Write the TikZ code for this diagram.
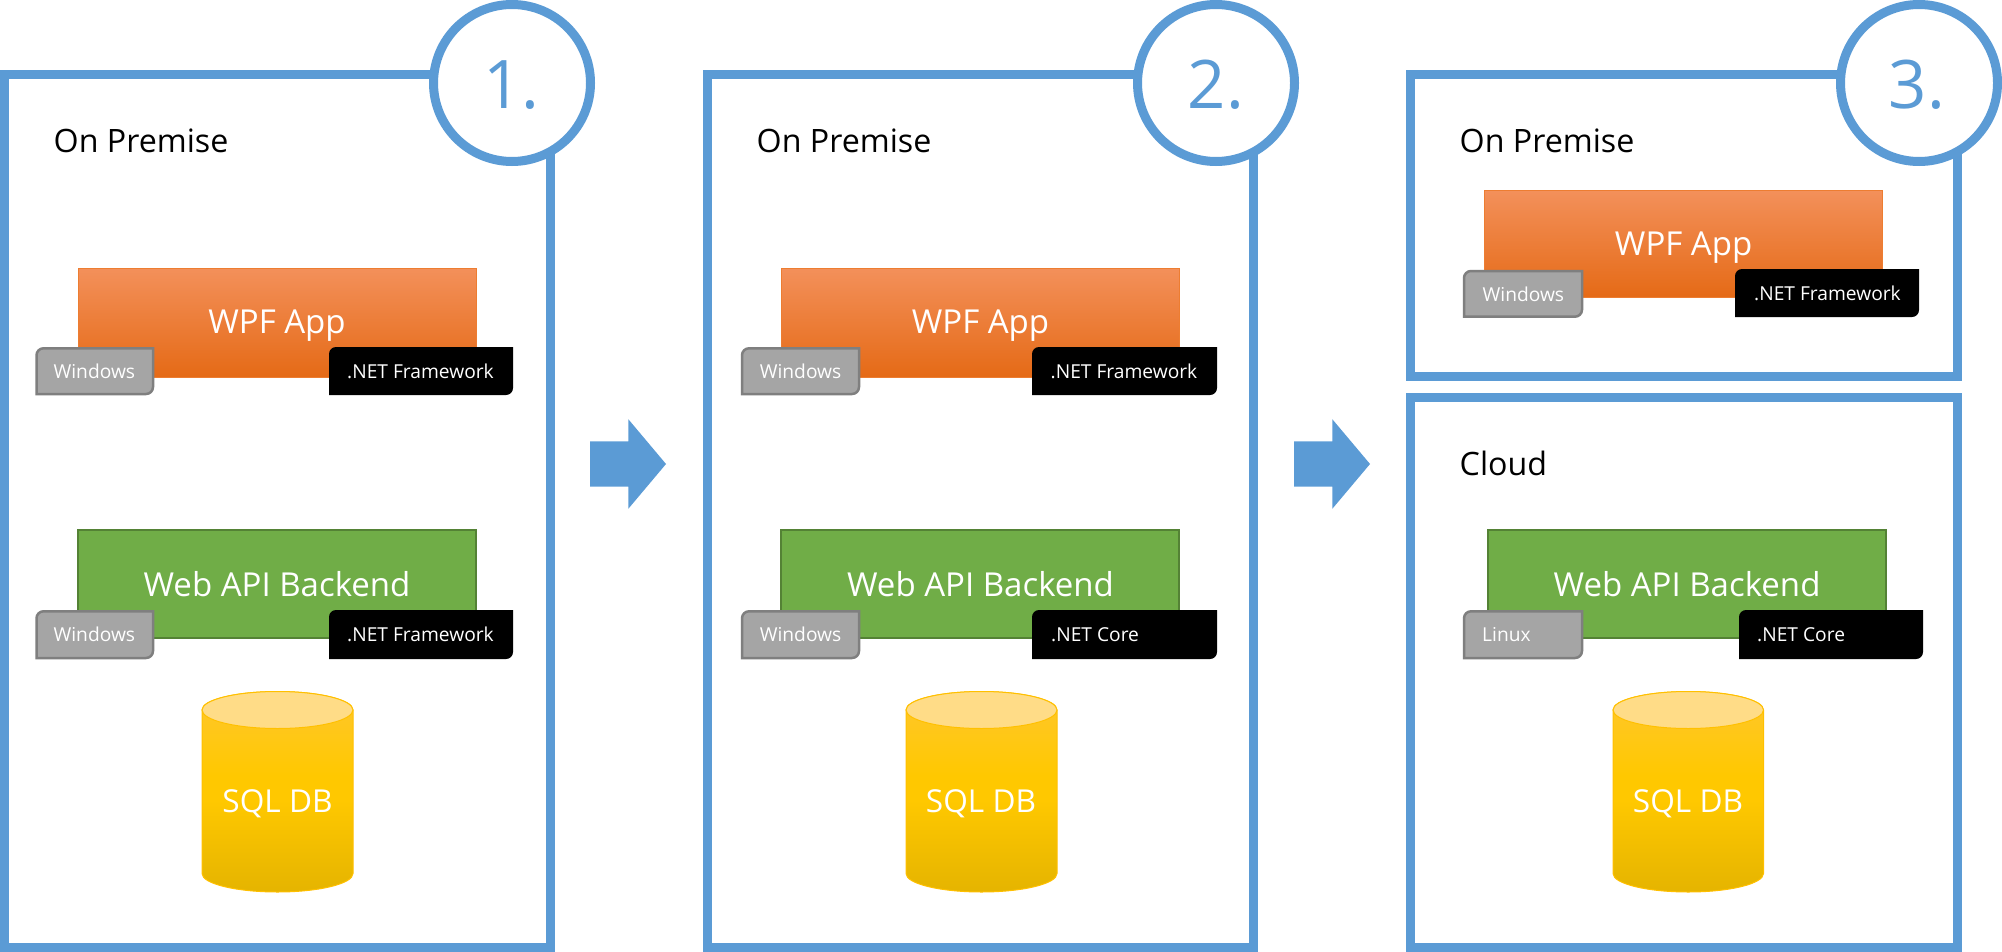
\documentclass[tikz,border=0pt]{standalone}
\usepackage{fontspec}
\setmainfont{Open Sans}
\definecolor{ringblue}{HTML}{5B9BD5}
\definecolor{orgA}{HTML}{F3905A}
\definecolor{orgB}{HTML}{F67A28}
\definecolor{orgC}{HTML}{E56A16}
\definecolor{orgL}{HTML}{ED7D31}
\definecolor{grn}{HTML}{70AD47}
\definecolor{grnL}{HTML}{548235}
\definecolor{tagG}{HTML}{A5A5A5}
\definecolor{tagL}{HTML}{7F7F7F}
\definecolor{dbA}{HTML}{FFC72E}
\definecolor{dbB}{HTML}{FFC800}
\definecolor{dbC}{HTML}{E5B400}
\definecolor{dbL}{HTML}{FFC000}
\definecolor{dbTop}{HTML}{FFDC87}
\pgfdeclareverticalshading{dbshade}{100bp}{color(0bp)=(dbC); color(25bp)=(dbC); color(48bp)=(dbB); color(54bp)=(dbB); color(75bp)=(dbA); color(100bp)=(dbA)}
\tikzset{
  x=1pt,y=-1pt,
  panel/.style={draw=ringblue,line width=9pt,fill=white},
  ringnode/.style={circle,draw=ringblue,line width=9pt,fill=white,minimum size=157pt,inner sep=0pt},
  numtext/.style={text=ringblue,anchor=base,inner sep=0pt,font=\fontsize{67}{67}\selectfont},
  headtext/.style={text=black,anchor=base west,inner sep=0pt,font=\fontsize{32.2}{32.2}\selectfont},
  bigtext/.style={text=white,anchor=base,inner sep=0pt,font=\fontsize{33}{33}\selectfont},
  dbtext/.style={text=white,anchor=base,inner sep=0pt,font=\fontsize{31.6}{31.6}\selectfont},
  smalltext/.style={text=white,anchor=base west,inner sep=0pt,font=\fontsize{19.2}{19.2}\selectfont},
  orangebox/.style={draw=orgL,line width=1pt,top color=orgA,middle color=orgB,bottom color=orgC},
  greenbox/.style={draw=grnL,fill=grn,line width=2pt},
  graytag/.style={draw=tagL,fill=tagG,line width=2.5pt},
  blacktag/.style={fill=black},
  dbbody/.style={draw=dbL,line width=1pt,shading=dbshade},
  dbcap/.style={draw=dbL,line width=1pt,fill=dbTop},
  blockarrow/.style={fill=ringblue}
}
% x1 y1 x2 y2 style : corners rounded top left and bottom right
\newcommand{\tagshape}[5]{%
  \path[#5] (#1,#4) [rounded corners=7pt] -- (#1,#2) [sharp corners] -- (#3,#2) [rounded corners=7pt] -- (#3,#4) [sharp corners] -- cycle;}
% x1 x2 ytop ybottom
\newcommand{\dbshape}[4]{%
  \pgfmathsetmacro{\dbmid}{(#1+#2)/2}\pgfmathsetmacro{\dbrx}{(#2-#1)/2}%
  \pgfmathsetmacro{\dbc}{#3+18.5}\pgfmathsetmacro{\dbe}{#4-18.5}%
  \path[dbbody] (#1,\dbc) -- (#1,\dbe) arc[start angle=180,end angle=360,x radius=\dbrx,y radius=-18.5] -- (#2,\dbc) arc[start angle=0,end angle=180,x radius=\dbrx,y radius=-18.5] -- cycle;
  \path[dbcap] (\dbmid,\dbc) ellipse[x radius=\dbrx,y radius=18.5];}
\begin{document}
\begin{tikzpicture}
\useasboundingbox (0,0) rectangle (2002,952);
% panels
\path[panel] (4.4,74.5) rectangle (550.5,947.5);
\path[panel] (707.5,74.5) rectangle (1253.7,947.5);
\path[panel] (1410.6,74.5) rectangle (1957,376.5);
\path[panel] (1410.6,397.5) rectangle (1957,947.5);
% arrows
\path[blockarrow] (590,441.3) -- (628.4,441.3) -- (628.4,419.3) -- (666,464) -- (628.4,508.7) -- (628.4,486.7) -- (590,486.7) -- cycle;
\path[blockarrow] (1294,441.3) -- (1332.4,441.3) -- (1332.4,419.3) -- (1370,464) -- (1332.4,508.7) -- (1332.4,486.7) -- (1294,486.7) -- cycle;
% rings
\node[ringnode] (ring1) at (512,83) {};
\node[ringnode] (ring2) at (1216,83) {};
\node[ringnode] (ring3) at (1919,83) {};
\node[numtext] (num1) at (511.5,108.3) {1.};
\node[numtext] (num2) at (1216,108.3) {2.};
\node[numtext] (num3) at (1917,108.3) {3.};
% headings
\node[headtext] (h1) at (53.5,152.7) {On Premise};
\node[headtext] (h2) at (756.5,152.7) {On Premise};
\node[headtext] (h3) at (1459.5,152.7) {On Premise};
\node[headtext] (h4) at (1459.5,475.6) {Cloud};
% panel 1
\path[orangebox] (78,268.5) rectangle (476.5,377);
\node[bigtext] (w1) at (277,333.3) {WPF App};
\tagshape{36.5}{348.3}{153}{394}{graytag}
\node[smalltext] (t1a) at (53.4,378.5) {Windows};
\tagshape{329}{347}{513}{395}{blacktag}
\node[smalltext] (t1b) at (347,378.5) {.NET Framework};
\path[greenbox] (78,530) rectangle (476,638);
\node[bigtext] (a1) at (277,596) {Web API Backend};
\tagshape{36.5}{611.3}{153}{658}{graytag}
\node[smalltext] (t1c) at (53.4,641.5) {Windows};
\tagshape{329}{610}{513}{659}{blacktag}
\node[smalltext] (t1d) at (347,641.5) {.NET Framework};
\dbshape{202}{353}{691.5}{892}
\node[dbtext] (d1) at (277.5,812) {SQL DB};
% panel 2
\path[orangebox] (781,268.5) rectangle (1179.5,377);
\node[bigtext] (w2) at (980.5,333.3) {WPF App};
\tagshape{742}{348.3}{859}{394}{graytag}
\node[smalltext] (t2a) at (759.6,378.5) {Windows};
\tagshape{1032}{347}{1217}{395}{blacktag}
\node[smalltext] (t2b) at (1050.5,378.5) {.NET Framework};
\path[greenbox] (781,530) rectangle (1179,638);
\node[bigtext] (a2) at (980.5,596) {Web API Backend};
\tagshape{742}{611.3}{859}{658}{graytag}
\node[smalltext] (t2c) at (759.6,641.5) {Windows};
\tagshape{1032}{610}{1217}{659}{blacktag}
\node[smalltext] (t2d) at (1051,641.5) {.NET Core};
\dbshape{906}{1057}{691.5}{892}
\node[dbtext] (d2) at (981,812) {SQL DB};
% panel 3 top
\path[orangebox] (1484,190.8) rectangle (1882.5,297.7);
\node[bigtext] (w3) at (1683.6,255.7) {WPF App};
\tagshape{1464}{271}{1582}{316.7}{graytag}
\node[smalltext] (t3a) at (1482.4,301.9) {Windows};
\tagshape{1735}{269}{1919}{317}{blacktag}
\node[smalltext] (t3b) at (1754,300.2) {.NET Framework};
% panel 3 bottom
\path[greenbox] (1488,530) rectangle (1886,638);
\node[bigtext] (a3) at (1687,596) {Web API Backend};
\tagshape{1464}{611.3}{1582}{658}{graytag}
\node[smalltext] (t3c) at (1482,641.5) {Linux};
\tagshape{1739}{610}{1923}{659}{blacktag}
\node[smalltext] (t3d) at (1757,641.5) {.NET Core};
\dbshape{1613}{1763.5}{691.5}{892}
\node[dbtext] (d3) at (1688,812) {SQL DB};
\end{tikzpicture}
\end{document}
